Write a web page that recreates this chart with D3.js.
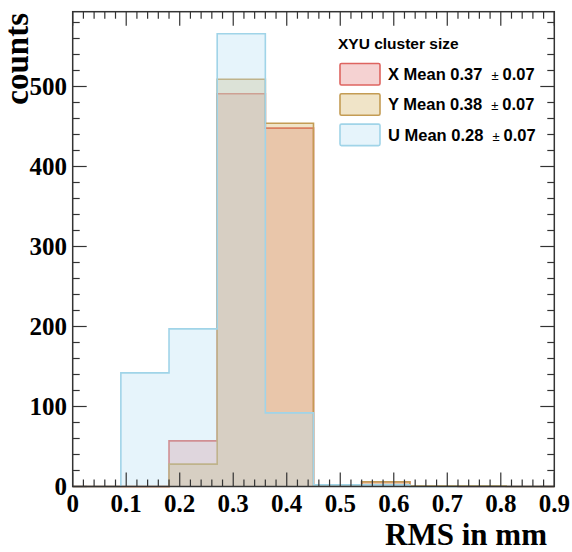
<!DOCTYPE html>
<html>
<head>
<meta charset="utf-8">
<script src="https://cdn.jsdelivr.net/npm/d3@7"></script>
<style>
  body { margin: 0; background: #fff; }
  svg { display: block; }
</style>
</head>
<body>
<div id="chart"></div>
<script>
// bin edges every 0.09 from 0 to 0.9
const binEdges = [0, 0.09, 0.18, 0.27, 0.36, 0.45, 0.54, 0.63, 0.72, 0.81, 0.9];
const countsX = [0, 0, 57, 491, 448, 1, 6, 1, 0, 0];
const countsY = [0, 0, 28, 509, 454, 1, 6, 1, 1, 0];
const countsU = [0, 142, 197, 566, 92, 2, 2, 0, 0, 0];

const xTicks = [0, 0.1, 0.2, 0.3, 0.4, 0.5, 0.6, 0.7, 0.8, 0.9];
const yTicks = [0, 100, 200, 300, 400, 500];

const legendTitle = "XYU cluster size";
const legendNames = ["X Mean 0.37", "Y Mean 0.38", "U Mean 0.28"];
const legendErr = ["0.07", "0.07", "0.07"];

const W = 572, H = 552;
const frame = {left: 72.7, right: 554.3, top: 11.7, bottom: 486.5};

const svg = d3.select("#chart")
  .append("svg")
  .attr("width", W)
  .attr("height", H);

const x = d3.scaleLinear().domain([0, 0.9]).range([frame.left, frame.right]);
const y = d3.scaleLinear().domain([0, 593.5]).range([frame.bottom, frame.top]);

const styles = [
  {fill: "rgb(226,126,126)", stroke: "rgb(222,100,96)"},
  {fill: "rgb(212,178,98)", stroke: "rgb(196,156,84)"},
  {fill: "rgb(183,224,244)", stroke: "rgb(160,212,232)"}
];
const series = [countsX, countsY, countsU];

function stepPath(vals) {
  let p = d3.path();
  p.moveTo(x(binEdges[0]), y(0));
  vals.forEach((v, i) => {
    p.lineTo(x(binEdges[i]), y(v));
    p.lineTo(x(binEdges[i + 1]), y(v));
  });
  p.lineTo(x(binEdges[binEdges.length - 1]), y(0));
  return p.toString();
}

// fills first, then outlines, order X, Y, U
series.forEach((vals, k) => {
  svg.append("path")
    .attr("d", stepPath(vals) + "Z")
    .attr("fill", styles[k].fill)
    .attr("fill-opacity", 0.35)
    .attr("stroke", "none");
  svg.append("path")
    .attr("d", stepPath(vals))
    .attr("fill", "none")
    .attr("stroke", styles[k].stroke)
    .attr("stroke-width", 1.6);
});

// ticks on all four sides
const axisColor = "#333";
const xMinor = d3.range(0, 0.9001, 0.02);
const yMinor = d3.range(0, 593, 20);
const g = svg.append("g").attr("stroke", axisColor).attr("stroke-width", 1.2);

xMinor.forEach(v => {
  const major = xTicks.some(t => Math.abs(t - v) < 1e-6);
  const len = major ? 14 : 7;
  g.append("line").attr("x1", x(v)).attr("x2", x(v))
    .attr("y1", frame.bottom).attr("y2", frame.bottom - len);
  g.append("line").attr("x1", x(v)).attr("x2", x(v))
    .attr("y1", frame.top).attr("y2", frame.top + len);
});
yMinor.forEach(v => {
  const major = v % 100 === 0;
  const len = major ? 14 : 7;
  g.append("line").attr("x1", frame.left).attr("x2", frame.left + len)
    .attr("y1", y(v)).attr("y2", y(v));
  g.append("line").attr("x1", frame.right).attr("x2", frame.right - len)
    .attr("y1", y(v)).attr("y2", y(v));
});

svg.append("rect")
  .attr("x", frame.left).attr("y", frame.top)
  .attr("width", frame.right - frame.left)
  .attr("height", frame.bottom - frame.top)
  .attr("fill", "none")
  .attr("stroke", axisColor)
  .attr("stroke-width", 1.5);

// tick labels
const serif = "'Liberation Serif', 'Times New Roman', serif";
svg.selectAll(".xlab")
  .data(xTicks)
  .join("text")
  .attr("class", "xlab")
  .attr("x", d => x(d))
  .attr("y", 512)
  .attr("text-anchor", "middle")
  .attr("font-family", serif)
  .attr("font-weight", "bold")
  .attr("font-size", 25)
  .text(d => d === 0 ? "0" : d.toFixed(1));

svg.selectAll(".ylab")
  .data(yTicks)
  .join("text")
  .attr("class", "ylab")
  .attr("x", 67)
  .attr("y", d => y(d) + 8.5)
  .attr("text-anchor", "end")
  .attr("font-family", serif)
  .attr("font-weight", "bold")
  .attr("font-size", 25)
  .text(d => d);

// axis titles
svg.append("text")
  .attr("x", 547)
  .attr("y", 545)
  .attr("text-anchor", "end")
  .attr("font-family", serif)
  .attr("font-weight", "bold")
  .attr("font-size", 31)
  .text("RMS in mm");

svg.append("text")
  .attr("transform", "translate(28,13) rotate(-90)")
  .attr("text-anchor", "end")
  .attr("font-family", serif)
  .attr("font-weight", "bold")
  .attr("font-size", 33)
  .text("counts");

// legend
const sans = "'Liberation Sans', Arial, Helvetica, sans-serif";
svg.append("text")
  .attr("x", 338)
  .attr("y", 49)
  .attr("font-family", sans)
  .attr("font-weight", "bold")
  .attr("font-size", 15.5)
  .text(legendTitle);

legendNames.forEach((name, k) => {
  const top = 63.5 + k * 30.3;
  svg.append("rect")
    .attr("x", 340).attr("y", top)
    .attr("width", 40).attr("height", 21.5)
    .attr("rx", 1.5)
    .attr("fill", styles[k].fill)
    .attr("fill-opacity", 0.35)
    .attr("stroke", styles[k].stroke)
    .attr("stroke-width", 1.6);
  const t = svg.append("text")
    .attr("x", 388)
    .attr("y", top + 16.5)
    .attr("font-family", sans)
    .attr("font-weight", "bold")
    .attr("font-size", 16.5)
    .text(name);
  t.append("tspan")
    .attr("dx", 9)
    .attr("font-weight", "normal")
    .attr("font-size", 13)
    .text("\u00b1");
  t.append("tspan")
    .attr("dx", 4)
    .text(legendErr[k]);
});
</script>
</body>
</html>
